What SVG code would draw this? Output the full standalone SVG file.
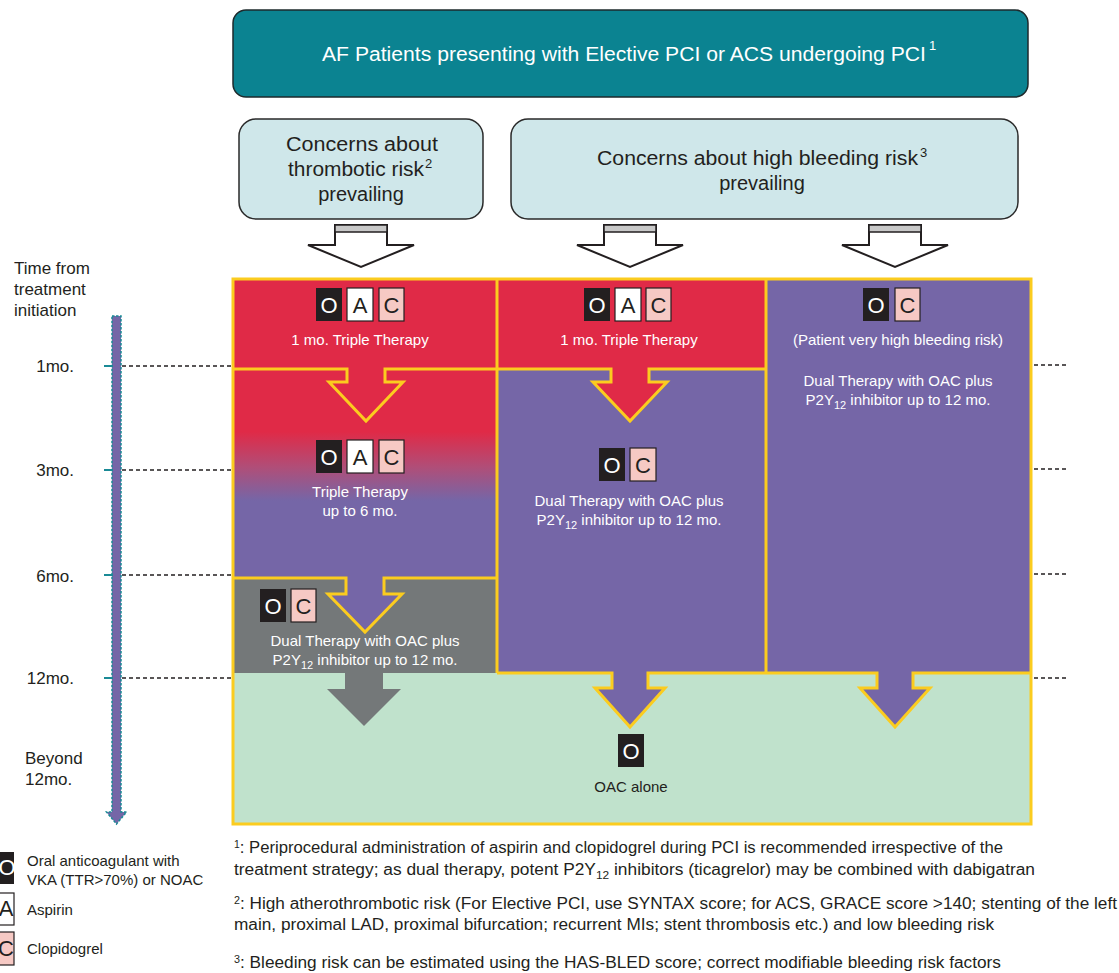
<svg xmlns="http://www.w3.org/2000/svg" width="1119" height="973" viewBox="0 0 1119 973">
<style>
text{font-family:"Liberation Sans",Arial,sans-serif;}
.w{fill:#ffffff;font-size:15px;text-anchor:middle;}
.d{fill:#231f20;}
.lbl{fill:#231f20;font-size:17px;}
.bo{fill:#231f20;}
.ba{fill:#ffffff;stroke:#231f20;stroke-width:1.2;}
.bc{fill:#f6c9c4;stroke:#231f20;stroke-width:1.2;}
.lo{fill:#ffffff;font-size:22px;text-anchor:middle;}
.lk{fill:#231f20;font-size:22px;text-anchor:middle;}
.yl{fill:none;stroke:#fbcc1f;stroke-width:3;stroke-linejoin:miter;}
.dash{stroke:#231f20;stroke-width:1.6;stroke-dasharray:4 3;}
.tick{stroke:#1a8a96;stroke-width:2;}
.wa{fill:#ffffff;stroke:#231f20;stroke-width:2;stroke-linejoin:miter;}
.cap{fill:#c8c8c8;stroke:#231f20;stroke-width:1.5;}
.fn{fill:#231f20;font-size:16px;}
.lg{fill:#231f20;font-size:15px;}
</style>
<defs>
<linearGradient id="rp" gradientUnits="userSpaceOnUse" x1="0" y1="369" x2="0" y2="578">
<stop offset="0.3" stop-color="#e02a47"/>
<stop offset="0.47" stop-color="#b04e78"/>
<stop offset="0.63" stop-color="#7566a7"/>
</linearGradient>
</defs>

<g id="title">
<rect x="233" y="10" width="795" height="87" rx="13" fill="#0b8391" stroke="#1e2a2c" stroke-width="1.5"/>
<text x="322" y="61" fill="#ffffff" font-size="20" textLength="604" lengthAdjust="spacingAndGlyphs">AF Patients presenting with Elective PCI or ACS undergoing PCI</text>
<text x="929" y="50" fill="#ffffff" font-size="13">1</text>
</g>

<g id="concern-thrombotic">
<rect x="239" y="119" width="244" height="100" rx="17" fill="#cfe7ea" stroke="#2a2a2a" stroke-width="1.5"/>
<text x="286" y="151" class="d" font-size="20" textLength="152" lengthAdjust="spacingAndGlyphs">Concerns about</text>
<text x="288" y="176" class="d" font-size="20" textLength="136" lengthAdjust="spacingAndGlyphs">thrombotic risk</text>
<text x="425" y="168" class="d" font-size="13">2</text>
<text x="361" y="201" class="d" font-size="20" text-anchor="middle">prevailing</text>
</g>

<g id="concern-bleeding">
<rect x="511" y="119" width="507" height="100" rx="17" fill="#cfe7ea" stroke="#2a2a2a" stroke-width="1.5"/>
<text x="597" y="165" class="d" font-size="20" textLength="321" lengthAdjust="spacingAndGlyphs">Concerns about high bleeding risk</text>
<text x="920" y="157" class="d" font-size="13">3</text>
<text x="762" y="190" class="d" font-size="20" text-anchor="middle">prevailing</text>
</g>

<g id="time-axis">
<text x="14" y="274" class="lbl" font-size="18">Time from</text>
<text x="14" y="295" class="lbl" font-size="18">treatment</text>
<text x="14" y="316" class="lbl" font-size="18">initiation</text>
<text x="74" y="372" class="lbl" text-anchor="end">1mo.</text>
<text x="74" y="476" class="lbl" text-anchor="end">3mo.</text>
<text x="74" y="582" class="lbl" text-anchor="end">6mo.</text>
<text x="74" y="684" class="lbl" text-anchor="end">12mo.</text>
<text x="25" y="764" class="lbl">Beyond</text>
<text x="25" y="785" class="lbl">12mo.</text>
<path d="M112,316 H121 V812 H126.5 L116.5,824 L106.5,812 H112 Z" fill="#7566a7" stroke="#1a8a96" stroke-width="1.5" stroke-dasharray="2.5 1.5"/>
<line x1="104" y1="366" x2="113" y2="366" class="tick"/>
<line x1="104" y1="470" x2="113" y2="470" class="tick"/>
<line x1="104" y1="575" x2="113" y2="575" class="tick"/>
<line x1="104" y1="678" x2="113" y2="678" class="tick"/>
<line x1="122" y1="366" x2="232" y2="366" class="dash"/>
<line x1="122" y1="470" x2="232" y2="470" class="dash"/>
<line x1="122" y1="575" x2="232" y2="575" class="dash"/>
<line x1="122" y1="678" x2="232" y2="678" class="dash"/>
<line x1="1034" y1="365" x2="1066" y2="365" class="dash"/>
<line x1="1034" y1="469" x2="1066" y2="469" class="dash"/>
<line x1="1034" y1="574" x2="1066" y2="574" class="dash"/>
<line x1="1034" y1="678" x2="1066" y2="678" class="dash"/>
</g>

<g id="panel-fills">
<rect x="233" y="279" width="264" height="90" fill="#e02a47"/>
<rect x="233" y="369" width="264" height="209" fill="url(#rp)"/>
<rect x="233" y="578" width="264" height="95" fill="#747879"/>
<rect x="497" y="279" width="269" height="90" fill="#e02a47"/>
<rect x="497" y="369" width="269" height="304" fill="#7566a7"/>
<rect x="766" y="279" width="265" height="394" fill="#7566a7"/>
<rect x="233" y="673" width="798" height="151" fill="#c0e2cc"/>
</g>

<g id="connectors">
<path class="wa" d="M335,225 H387 V245 H414 L361,267 L308,245 H335 Z"/>
<rect class="cap" x="335" y="225" width="52" height="7"/>
<path class="wa" d="M604,225 H656 V245 H683 L630,267 L577,245 H604 Z"/>
<rect class="cap" x="604" y="225" width="52" height="7"/>
<path class="wa" d="M869,225 H921 V245 H948 L895,267 L842,245 H869 Z"/>
<rect class="cap" x="869" y="225" width="52" height="7"/>

<path d="M347,368 H385 V382 H403 L366,421 L329,382 H347 Z" fill="#e02a47"/>
<path d="M611,368 H649 V382 H667 L630,421 L593,382 H611 Z" fill="#e02a47"/>
<path d="M346,577 H384 V594 H402 L365,632 L328,594 H346 Z" fill="#7566a7"/>
<path d="M345,672 H383 V689 H401 L364,726 L327,689 H345 Z" fill="#747879"/>
<path d="M612,672 H648 V688 H665 L630,727 L595,688 H612 Z" fill="#7566a7"/>
<path d="M877,672 H913 V688 H930 L895,727 L860,688 H877 Z" fill="#7566a7"/>

<path class="yl" d="M233,369 H347 V382 H329 L366,421 L403,382 H385 V369 H497"/>
<path class="yl" d="M497,369 H611 V382 H593 L630,421 L667,382 H649 V369 H766"/>
<path class="yl" d="M233,578 H346 V594 H328 L365,632 L402,594 H384 V578 H497"/>
<path class="yl" d="M497,673 H612 V688 H595 L630,727 L665,688 H648 V673 H877 V688 H860 L895,727 L930,688 H913 V673 H1031"/>
<line class="yl" x1="497" y1="279" x2="497" y2="673"/>
<line class="yl" x1="766" y1="279" x2="766" y2="673"/>
<rect class="yl" x="233" y="279" width="798" height="545" stroke-width="4"/>
</g>

<g id="cell-1mo-triple-a">
<rect class="bo" x="316" y="288" width="26" height="33"/><text class="lo" x="329" y="313">O</text>
<rect class="ba" x="347" y="288" width="26" height="33"/><text class="lk" x="360" y="313">A</text>
<rect class="bc" x="379" y="288" width="25" height="33"/><text class="lk" x="391.5" y="313">C</text>
<text class="w" x="360" y="345">1 mo. Triple Therapy</text>
</g>

<g id="cell-triple-6mo">
<rect class="bo" x="316" y="440" width="26" height="33"/><text class="lo" x="329" y="465">O</text>
<rect class="ba" x="347" y="440" width="26" height="33"/><text class="lk" x="360" y="465">A</text>
<rect class="bc" x="379" y="440" width="25" height="33"/><text class="lk" x="391.5" y="465">C</text>
<text class="w" x="360" y="497">Triple Therapy</text>
<text class="w" x="360" y="516">up to 6 mo.</text>
</g>

<g id="cell-dual-gray">
<rect class="bo" x="260" y="589" width="26" height="33"/><text class="lo" x="273" y="614">O</text>
<rect class="bc" x="291" y="589" width="25" height="33"/><text class="lk" x="303.5" y="614">C</text>
<text class="w" x="365" y="646">Dual Therapy with OAC plus</text>
<text class="w" x="365" y="665">P2Y<tspan font-size="11" dy="4">12</tspan><tspan dy="-4"> inhibitor up to 12 mo.</tspan></text>
</g>

<g id="cell-1mo-triple-b">
<rect class="bo" x="584" y="288" width="26" height="33"/><text class="lo" x="597" y="313">O</text>
<rect class="ba" x="615" y="288" width="26" height="33"/><text class="lk" x="628" y="313">A</text>
<rect class="bc" x="646" y="288" width="25" height="33"/><text class="lk" x="658.5" y="313">C</text>
<text class="w" x="629" y="345">1 mo. Triple Therapy</text>
</g>

<g id="cell-dual-b">
<rect class="bo" x="599" y="448" width="26" height="33"/><text class="lo" x="612" y="473">O</text>
<rect class="bc" x="630" y="448" width="26" height="33"/><text class="lk" x="643" y="473">C</text>
<text class="w" x="629" y="506">Dual Therapy with OAC plus</text>
<text class="w" x="629" y="525">P2Y<tspan font-size="11" dy="4">12</tspan><tspan dy="-4"> inhibitor up to 12 mo.</tspan></text>
</g>

<g id="cell-dual-c">
<rect class="bo" x="863" y="288" width="26" height="33"/><text class="lo" x="876" y="313">O</text>
<rect class="bc" x="895" y="288" width="25" height="33"/><text class="lk" x="907.5" y="313">C</text>
<text class="w" x="898" y="345">(Patient very high bleeding risk)</text>
<text class="w" x="898" y="386">Dual Therapy with OAC plus</text>
<text class="w" x="898" y="405">P2Y<tspan font-size="11" dy="4">12</tspan><tspan dy="-4"> inhibitor up to 12 mo.</tspan></text>
</g>

<g id="cell-oac-alone">
<rect class="bo" x="618" y="734" width="26" height="33"/><text class="lo" x="631" y="759">O</text>
<text x="631" y="792" class="d" font-size="15" text-anchor="middle">OAC alone</text>
</g>

<g id="legend">
<rect class="bo" x="-12" y="852" width="26" height="32"/><text class="lo" x="7" y="875" font-size="20">O</text>
<rect class="ba" x="-12" y="893" width="26" height="32"/><text class="lk" x="6" y="916" font-size="20">A</text>
<rect class="bc" x="-12" y="932" width="26" height="33"/><text class="lk" x="6" y="956" font-size="20">C</text>
<text class="lg" x="27" y="866">Oral anticoagulant with</text>
<text class="lg" x="27" y="885">VKA (TTR&gt;70%) or NOAC</text>
<text class="lg" x="27" y="915">Aspirin</text>
<text class="lg" x="27" y="954">Clopidogrel</text>
</g>

<g id="footnotes">
<text class="fn" x="234" y="853" textLength="769" lengthAdjust="spacingAndGlyphs"><tspan font-size="10" dy="-5">1</tspan><tspan dy="5">: Periprocedural administration of aspirin and clopidogrel during PCI is recommended irrespective of the</tspan></text>
<text class="fn" x="234" y="875" textLength="801" lengthAdjust="spacingAndGlyphs">treatment strategy; as dual therapy, potent P2Y<tspan font-size="11" dy="4">12</tspan><tspan dy="-4"> inhibitors (ticagrelor) may be combined with dabigatran</tspan></text>
<text class="fn" x="234" y="909" textLength="883" lengthAdjust="spacingAndGlyphs"><tspan font-size="10" dy="-5">2</tspan><tspan dy="5">: High atherothrombotic risk (For Elective PCI, use SYNTAX score; for ACS, GRACE score &gt;140; stenting of the left</tspan></text>
<text class="fn" x="234" y="930" textLength="760" lengthAdjust="spacingAndGlyphs">main, proximal LAD, proximal bifurcation; recurrent MIs; stent thrombosis etc.) and low bleeding risk</text>
<text class="fn" x="234" y="968" textLength="767" lengthAdjust="spacingAndGlyphs"><tspan font-size="10" dy="-5">3</tspan><tspan dy="5">: Bleeding risk can be estimated using the HAS-BLED score; correct modifiable bleeding risk factors</tspan></text>
</g>
</svg>
